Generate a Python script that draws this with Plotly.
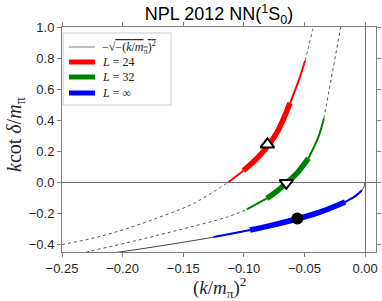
import plotly.graph_objects as go

# ---------------- data ----------------
# -sqrt(-(k/m_pi)^2) curve
sq_x = [-0.25, -0.22, -0.19, -0.16, -0.13, -0.10, -0.08, -0.06, -0.045, -0.03, -0.02, -0.012, -0.006, -0.003, -0.001, 0.0]
sq_y = [-0.500, -0.469, -0.436, -0.400, -0.361, -0.316, -0.283, -0.245, -0.212, -0.173, -0.141, -0.110, -0.077, -0.055, -0.032, 0.0]

# L = 24 finite-volume curve
l24_x = [-0.25, -0.2225, -0.1966, -0.1691, -0.1417, -0.1128, -0.1004, -0.0866, -0.0729, -0.0619, -0.055, -0.0495, -0.0432, -0.0400]
l24_y = [-0.402, -0.357, -0.299, -0.224, -0.138, 0.000, 0.074, 0.174, 0.318, 0.510, 0.650, 0.783, 0.985, 1.110]
l24_seg = [5, 6, 9, 11]   # indices: dashed | thin | thick | thin | dashed

# L = 32 finite-volume curve
l32_x = [-0.235, -0.227, -0.1966, -0.169, -0.1417, -0.1141, -0.0976, -0.0810, -0.0701, -0.0564, -0.0468, -0.0385, -0.0340, -0.0262, -0.0201, -0.0178]
l32_y = [-0.460, -0.445, -0.391, -0.338, -0.284, -0.226, -0.176, -0.105, -0.041, 0.056, 0.153, 0.292, 0.411, 0.740, 1.000, 1.100]
l32_seg = [6, 7, 10, 12]

# L = infinity
linf_x = [-0.125, -0.1095, -0.0949, -0.08, -0.065, -0.05, -0.035, -0.0165, -0.01, -0.006, -0.0027]
linf_y = [-0.354, -0.331, -0.308, -0.283, -0.255, -0.224, -0.187, -0.128, -0.100, -0.077, -0.052]
linf_seg = [2, 7]          # thin | thick | thin

# markers
tri_up = (-0.0806, 0.243)
tri_dn = (-0.0650, -0.005)
dot = (-0.0559, -0.234)

x_ticks = [-0.25, -0.20, -0.15, -0.10, -0.05, 0.00]
x_tick_text = ["−0.25", "−0.20", "−0.15", "−0.10", "−0.05", "0.00"]
y_ticks = [-0.4, -0.2, 0.0, 0.2, 0.4, 0.6, 0.8, 1.0]
y_tick_text = ["−0.4", "−0.2", "0.0", "0.2", "0.4", "0.6", "0.8", "1.0"]

names = ["−√<span style='text-decoration:overline'>−(<i>k</i>/<i>m</i><sub>π</sub>)<sup>2</sup></span>",
         "<i>L</i> = 24", "<i>L</i> = 32", "<i>L</i> = ∞"]
colors = ["#808080", "#ff0000", "#008000", "#0000ff"]

# ---------------- figure ----------------
THIN, THICK = 2, 5.5
fig = go.Figure()


def add(x, y, color, width, dash=None, shape="spline"):
    fig.add_trace(go.Scatter(x=x, y=y, mode="lines", showlegend=False, hoverinfo="skip",
                             line=dict(color=color, width=width, dash=dash, shape=shape)))


add(sq_x, sq_y, "#444444", 1)


def fv(xs, ys, seg, color):
    a, b, c, d = seg
    add(xs[:a + 1], ys[:a + 1], "#555555", 1, dash="3px,3px")
    add(xs[a:b + 1], ys[a:b + 1], color, THIN)
    add(xs[b:c + 1], ys[b:c + 1], color, THICK)
    add(xs[c:d + 1], ys[c:d + 1], color, THIN)
    add(xs[d:], ys[d:], "#555555", 1, dash="3px,3px")


fv(l24_x, l24_y, l24_seg, colors[1])
fv(l32_x, l32_y, l32_seg, colors[2])

a, b = linf_seg
add(linf_x[:a + 1], linf_y[:a + 1], colors[3], THIN)
add(linf_x[a:b + 1], linf_y[a:b + 1], colors[3], THICK)
add(linf_x[b:], linf_y[b:], colors[3], THIN)

fig.add_trace(go.Scatter(x=[tri_up[0]], y=[tri_up[1]], mode="markers", showlegend=False,
                         marker=dict(symbol="triangle-up", size=12, color="white",
                                     line=dict(color="black", width=2))))
fig.add_trace(go.Scatter(x=[tri_dn[0]], y=[tri_dn[1]], mode="markers", showlegend=False,
                         marker=dict(symbol="triangle-down", size=12, color="white",
                                     line=dict(color="black", width=2))))
fig.add_trace(go.Scatter(x=[dot[0]], y=[dot[1]], mode="markers", showlegend=False,
                         marker=dict(symbol="circle", size=12, color="black")))

# ---------------- hand-built legend (matplotlib-like box) ----------------
L, T, W, H = 62, 27, 314, 225           # plot-area geometry in pixels
px = lambda v: (v - L) / W
py = lambda v: 1 - (v - T) / H
shapes = [dict(type="rect", xref="paper", yref="paper", x0=px(63), x1=px(171), y0=py(105), y1=py(33),
               fillcolor="white", line=dict(color="#cccccc", width=1), layer="above")]
annotations = []
rows = [47, 62, 77, 93]
widths = [1, 5, 5, 5]
for i, r in enumerate(rows):
    shapes.append(dict(type="line", xref="paper", yref="paper", x0=px(69), x1=px(95), y0=py(r), y1=py(r),
                       line=dict(color=colors[i], width=widths[i]), layer="above"))
    annotations.append(dict(text=names[i], xref="paper", yref="paper", x=px(100), y=py(r),
                            xanchor="left", yanchor="middle", showarrow=False,
                            font=dict(family="Liberation Serif, DejaVu Serif, serif", size=12, color="#222222")))

annotations += [
    dict(text="(<i>k</i>/<i>m</i><sub>π</sub>)<sup>2</sup>", xref="paper", yref="paper",
         x=0.5, y=-(287.5 - 252) / 225, xanchor="center", yanchor="middle", showarrow=False,
         font=dict(family="Liberation Serif, DejaVu Serif, serif", size=19, color="#262626")),
    dict(text="<i>k</i>cot <i>δ</i>/<i>m</i><sub>π</sub>", xref="paper", yref="paper",
         x=(15 - 62) / 314, y=0.52, xanchor="center", yanchor="middle", showarrow=False,
         textangle=-90,
         font=dict(family="Liberation Serif, DejaVu Serif, serif", size=20, color="#262626")),
]

axis_common = dict(showgrid=False, showline=True, linecolor="#808080", linewidth=1,
                   mirror="ticks", ticks="outside", ticklen=4, tickcolor="#808080",
                   zeroline=True, zerolinecolor="#707070", zerolinewidth=1, automargin=False,
                   tickfont=dict(family="Liberation Sans, Arial, sans-serif", size=13, color="#262626"))

fig.update_layout(
    width=382, height=301,
    margin=dict(l=62, r=6, t=27, b=49, autoexpand=False),
    paper_bgcolor="white", plot_bgcolor="white",
    title=dict(text="NPL 2012 NN(<sup>1</sup>S<sub>0</sub>)", x=0.5, xref="paper",
               y=1 - 14 / 301, yref="container", yanchor="middle", xanchor="center",
               automargin=False,
               font=dict(family="Liberation Sans, Arial, sans-serif", size=18, color="black")),
    xaxis=dict(range=[-0.25, 0.009], tickvals=x_ticks, ticktext=x_tick_text, **axis_common),
    yaxis=dict(range=[-0.45, 1.0], tickvals=y_ticks, ticktext=y_tick_text, **axis_common),
    showlegend=False,
    shapes=shapes,
    annotations=annotations,
)

fig.write_html("out.html", config={"displayModeBar": False},
               post_script="document.body.style.margin='0';document.body.style.overflow='hidden';")
